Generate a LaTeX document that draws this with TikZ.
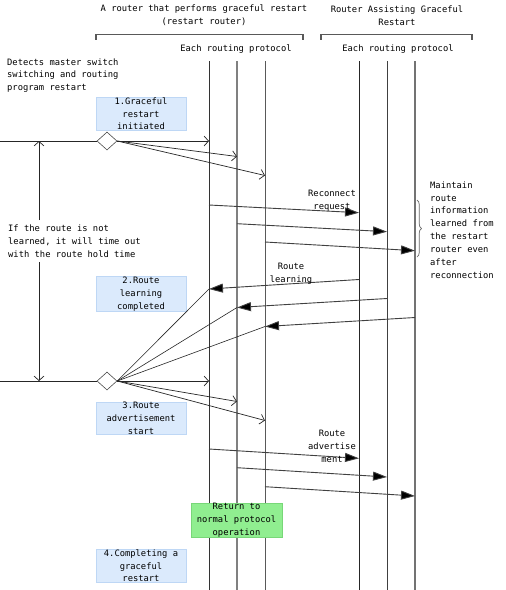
\documentclass[tikz,border=0pt]{standalone}
\usepackage{fontspec}
\setmainfont{DejaVu Sans Mono}
\usetikzlibrary{arrows.meta,shapes.geometric,decorations.pathreplacing}
\definecolor{boxblue}{RGB}{219,234,252}
\definecolor{boxblueline}{RGB}{190,215,245}
\definecolor{boxgreen}{RGB}{144,238,144}
\definecolor{boxgreenline}{RGB}{120,215,120}
\tikzset{
  txt/.style={font=\fontsize{8.8}{12.9}\selectfont, inner sep=0pt, align=center},
  ltxt/.style={font=\fontsize{8.8}{12.9}\selectfont, inner sep=0pt, align=left},
  phase/.style={draw=boxblueline, fill=boxblue, line width=1pt, minimum width=90pt, minimum height=30pt, inner sep=0pt, align=center, font=\fontsize{8.8}{12.9}\selectfont},
  normal/.style={draw=boxgreenline, fill=boxgreen, line width=1pt, minimum width=91pt, minimum height=31pt, inner sep=0pt, align=center, font=\fontsize{8.8}{12.9}\selectfont},
  dia/.style={draw=black!70, fill=white, diamond, minimum width=20pt, minimum height=18pt, inner sep=0pt, line width=0.6pt},
  openarr/.style={-{Straight Barb[length=4.5pt,width=10pt]}, line width=0.7pt, draw=black!85},
  msg/.style={-{Triangle[length=14pt,width=9pt,fill=black]}, line width=0.9pt, draw=black!75},
  thin/.style={line width=0.6pt, draw=black!85},
  bracket/.style={line width=1.3pt, draw=black!65},
  life/.style={line width=1pt},
}
\begin{document}
\begin{tikzpicture}[x=1pt,y=-1pt]
\useasboundingbox[fill=white] (0,0) rectangle (506,590);

% titles
\node[txt] (t1) at (204,15.5) {A router that performs graceful restart\\(restart router)};
\node[txt] (t2) at (397,15.5) {Router Assisting Graceful\\Restart};
\draw[bracket] (96,39.5) -- (96,34.7) -- (303,34.7) -- (303,39.5);
\draw[bracket] (321,39.5) -- (321,34.7) -- (472,34.7) -- (472,39.5);
\node[txt] (p1) at (236,49) {Each routing protocol};
\node[txt] (p2) at (398,49) {Each routing protocol};

% lifelines
\coordinate (a1t) at (209,61); \coordinate (a1b) at (209,590);
\coordinate (a2t) at (237,61); \coordinate (a2b) at (237,590);
\coordinate (a3t) at (265,61); \coordinate (a3b) at (265,590);
\coordinate (b1t) at (359,61); \coordinate (b1b) at (359,590);
\coordinate (b2t) at (387,61); \coordinate (b2b) at (387,590);
\coordinate (b3t) at (415,61); \coordinate (b3b) at (415,590);
\draw[life, draw=black!80] (a1t) -- (a1b);
\draw[life, draw=black!50, line width=1.6pt] (a2t) -- (a2b);
\draw[life, draw=black!65] (a3t) -- (a3b);
\draw[life, draw=black!85] (b1t) -- (b1b);
\draw[life, draw=black!75] (b2t) -- (b2b);
\draw[life, draw=black!55, line width=1.3pt] (b3t) -- (b3b);

% left notes
\node[ltxt, anchor=west] (det) at (7,75.5) {Detects master switch\\switching and routing\\program restart};

% phase boxes
\node[phase] (ph1) at (141,113.7) {1.Graceful\\restart\\initiated};
\node[phase] (ph2) at (141,294) {2.Route\\learning\\completed};
\node[phase] (ph3) at (141,418.5) {3.Route\\advertisement\\start};
\node[phase] (ph4) at (141,565.7) {4.Completing a\\graceful\\restart};
\node[normal] (nrm) at (236.5,520.5) {Return to\\normal protocol\\operation};

% diamonds
\coordinate (e1) at (0,141);
\coordinate (e2) at (0,381);
\node[dia] (d1) at (107,141) {};
\node[dia] (d2) at (107,381) {};
\draw[thin] (e1) -- (d1.west);
\draw[thin] (e2) -- (d2.west);

% hold-time arrow
\coordinate (h1) at (39,141);
\coordinate (h2) at (39,381);
\node[ltxt, anchor=west, inner ysep=4.5pt] (ht) at (8,241) {If the route is not\\learned, it will time out\\with the route hold time};
\draw[openarr] (ht.north -| h1) -- (h1);
\draw[openarr] (ht.south -| h2) -- (h2);

% phase 1 arrows
\coordinate (s11) at (209,141);
\coordinate (s12) at (237,156.5);
\coordinate (s13) at (265,175.5);
\draw[openarr] (d1.east) -- (s11);
\draw[openarr] (d1.east) -- (s12);
\draw[openarr] (d1.east) -- (s13);

% reconnect requests
\coordinate (r1s) at (209,205); \coordinate (r1e) at (359,212.7);
\coordinate (r2s) at (237,223.7); \coordinate (r2e) at (387,231.7);
\coordinate (r3s) at (265,242); \coordinate (r3e) at (415,250.7);
\draw[msg] (r1s) -- (r1e);
\draw[msg] (r2s) -- (r2e);
\draw[msg] (r3s) -- (r3e);
\node[txt] (rl) at (332,200.5) {Reconnect\\request};

% brace and note
\coordinate (brt) at (417,200);
\coordinate (brb) at (417,257);
\draw[decorate, decoration={brace, amplitude=4.5pt}, draw=black!60, line width=0.7pt] (brt) -- (brb);
\node[ltxt, anchor=west] (keep) at (430,230) {Maintain\\route\\information\\learned from\\the restart\\router even\\after\\reconnection};

% route learning
\coordinate (l1s) at (359,279.5); \coordinate (l1e) at (209,289);
\coordinate (l2s) at (387,298.5); \coordinate (l2e) at (237,307.5);
\coordinate (l3s) at (415,317.5); \coordinate (l3e) at (265,326.5);
\draw[msg] (l1s) -- (l1e);
\draw[msg] (l2s) -- (l2e);
\draw[msg] (l3s) -- (l3e);
\node[txt] (ll) at (291,273.5) {Route\\learning};
\draw[thin] (l1e) -- (d2.east);
\draw[thin] (l2e) -- (d2.east);
\draw[thin] (l3e) -- (d2.east);

% phase 3 arrows
\coordinate (s31) at (209,381);
\coordinate (s32) at (237,401.5);
\coordinate (s33) at (265,420.5);
\draw[openarr] (d2.east) -- (s31);
\draw[openarr] (d2.east) -- (s32);
\draw[openarr] (d2.east) -- (s33);

% route advertisement
\coordinate (v1s) at (209,449); \coordinate (v1e) at (359,458.3);
\coordinate (v2s) at (237,467.7); \coordinate (v2e) at (387,477);
\coordinate (v3s) at (265,486.7); \coordinate (v3e) at (415,496);
\draw[msg] (v1s) -- (v1e);
\draw[msg] (v2s) -- (v2e);
\draw[msg] (v3s) -- (v3e);
\node[txt] (vl) at (332,446) {Route\\advertise\\ment};
\end{tikzpicture}
\end{document}
